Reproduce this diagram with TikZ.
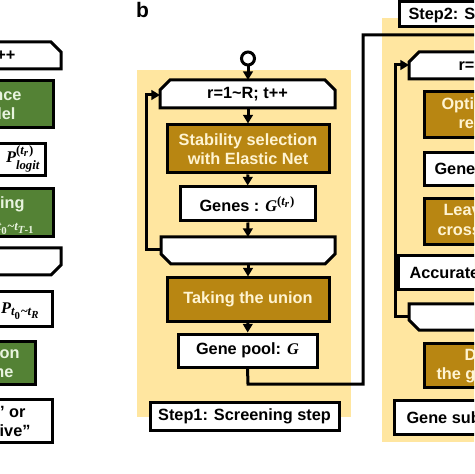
\documentclass[tikz,border=0pt]{standalone}
\usepackage{fontspec}
\setmainfont{Liberation Sans}
\newfontfamily\serifmath{Liberation Serif}
\usepackage{amsmath}
\DeclareMathSizes{8.15}{8.15}{6.4}{5.4}
\usetikzlibrary{arrows.meta}
\newcommand\mvar[1]{\text{\serifmath\bfseries\itshape #1}}
\newcommand\mup[1]{\text{\serifmath\bfseries #1}}
\definecolor{gold}{RGB}{184,134,18}
\definecolor{goldtext}{RGB}{255,244,210}
\definecolor{bgyellow}{RGB}{255,230,160}
\definecolor{greenbox}{RGB}{84,130,53}
\definecolor{greentext}{RGB}{232,244,222}
\begin{document}
\begin{tikzpicture}[x=0.5pt,y=-0.5pt,line width=1.5pt,
  every node/.style={font=\fontsize{8.15}{9.5}\selectfont\bfseries,inner sep=0pt,align=center},
  wbox/.style={draw,fill=white},
  gbox/.style={draw,fill=gold,text=goldtext},
  arr/.style={-{Triangle[length=4.3pt,width=4.8pt]}},
  gtxt/.style={text=greentext},
  otxt/.style={text=goldtext}]
\useasboundingbox (0,0) rectangle (474,474);
\clip (0,0) rectangle (474,474);

% backgrounds
\fill[bgyellow] (137,70) rectangle (351,417);
\fill[bgyellow] (382,18) rectangle (490,442);

% ---------- panel a (cropped) ----------
\draw[fill=white] (-20,42) -- (51,42) -- (61,52) -- (61,69) -- (-20,69) -- cycle;
\node[anchor=base east] (aLoopS) at (17,61) {r=1\textasciitilde R; t++};
\draw[fill=greenbox] (-20,81) rectangle (53,128);
\node[anchor=base east,gtxt] (aInfA) at (23,101) {Inference};
\node[anchor=base east,gtxt] (aInfB) at (17,120) {model};
\draw[fill=white] (-20,144) rectangle (45,176);
\node[anchor=base east] (aPlog) at (42,163) {$\mvar{P}^{\mup{(}\mvar{t}_{\mvar{r}}\mup{)}}_{\mvar{logit}}$};
\draw[fill=greenbox] (-20,189) rectangle (53,237);
\node[anchor=base east,gtxt] (aPredA) at (26,209) {Predicting};
\node[anchor=base east,gtxt] (aPredB) at (37,229) {$\mvar{P}_{\mvar{t}_{\mup{0}}\mup{\textasciitilde}\mvar{t}_{\mvar{T}\mup{-1}}}$};
\draw[fill=white] (-20,248) -- (61,248) -- (61,265) -- (51,275) -- (-20,275) -- cycle;
\draw[fill=white] (-20,292) rectangle (52,326);
\node[anchor=base east] (aPR) at (42,314) {$\mvar{P}_{\mvar{t}_{\mup{0}}\mup{\textasciitilde}\mvar{t}_{\mvar{R}}}$};
\draw[fill=greenbox] (-20,341) rectangle (35,384);
\node[anchor=base east,gtxt] (aClsA) at (21,358) {Classification};
\node[anchor=base east,gtxt] (aClsB) at (15,377) {outcome};
\draw[fill=white] (-20,399) rectangle (52,442);
\node[anchor=base east] (aOutA) at (27,417) {“Positive” or};
\node[anchor=base east] (aOutB) at (32,436) {“Negative”};

% ---------- panel b ----------
\node[font=\fontsize{10.5}{12}\selectfont\bfseries] (lblb) at (142.5,10) {b};
\node[circle,draw,fill=white,minimum size=6.5pt] (start) at (248,58.5) {};
\draw[fill=white] (160,108) -- (160,90) -- (170,80) -- (325,80) -- (335,90) -- (335,108) -- cycle;
\node (bLoopS) at (247.5,94) {r=1\textasciitilde R; t++};
\coordinate (bLSt) at (248,80);
\coordinate (bLSb) at (248,108);
\coordinate (bLSl) at (160,95);
\node[gbox,minimum width=81pt,minimum height=24pt] (bStab) at (248,149) {Stability selection\\with Elastic Net};
\node[wbox,minimum width=67.5pt,minimum height=17pt] (bGenes) at (247.5,204) {Genes : $\mvar{G}^{\mup{(}\mvar{t}_{\mvar{r}}\mup{)}}$};
\draw[fill=white] (161,237) -- (335,237) -- (335,254) -- (325,264) -- (171,264) -- (161,254) -- cycle;
\coordinate (bLEt) at (248,237);
\coordinate (bLEb) at (248,264);
\coordinate (bLEl) at (161,250);
\node[gbox,minimum width=81pt,minimum height=21.5pt] (bUnion) at (248,299.5) {Taking the union};
\node[wbox,minimum width=69.5pt,minimum height=16.5pt] (bPool) at (247.5,350.5) {Gene pool: $\mvar{G}$};
\node[wbox,minimum width=94.5pt,minimum height=14pt] (bStep) at (244.5,416) {Step1: Screening step};

\draw[arr] (start) -- (bLSt);
\draw[arr] (bLSb) -- (bStab);
\draw[arr] (bStab) -- (bGenes);
\draw[arr] (bGenes) -- (bLEt);
\draw[arr] (bLEb) -- (bUnion);
\draw[arr] (bUnion) -- (bPool);
\draw[arr] (bLEl) -- (146,250) -- (146,95) -- (bLSl);
\coordinate (exitc) at (490,35);
\draw (bPool.south) -- (248,384) -- (363,384) -- (363,35) -- (exitc);

% ---------- panel c (cropped) ----------
\draw[fill=white] (399,2) rectangle (520,27);
\node[anchor=base west] (cStep) at (407,20) {Step2: Selection step};
\draw[fill=white] (409,79) -- (409,62) -- (419,52) -- (520,52) -- (520,79) -- cycle;
\node[anchor=base west] (cLoopS) at (457,71) {r=1\textasciitilde R; t++};
\coordinate (cLSl) at (409,65);
\draw[fill=gold] (424,92) rectangle (520,138);
\node[anchor=base west,otxt] (cOptA) at (440,110) {Optimizing the};
\node[anchor=base west,otxt] (cOptB) at (457,129) {regularization};
\draw[fill=white] (424,153) rectangle (520,186);
\node[anchor=base west] (cGenes) at (433,175) {Genes : $\mvar{G}$};
\draw[fill=gold] (424,199) rectangle (520,245);
\node[anchor=base west,otxt] (cLooA) at (442,216) {Leave-one-out};
\node[anchor=base west,otxt] (cLooB) at (436,236) {cross-validation};
\draw[fill=white] (398,256) rectangle (520,290);
\node[anchor=base west] (cAcc) at (408,279) {Accurate rate};
\draw[fill=white] (409,304) -- (520,304) -- (520,330) -- (419,330) -- (409,320) -- cycle;
\coordinate (cLEl) at (409,316);
\draw[arr] (cLEl) -- (395,316) -- (395,65) -- (cLSl);
\draw[fill=gold] (424,343) rectangle (520,387);
\node[anchor=base west,otxt] (cDetA) at (463,360) {Determine};
\node[anchor=base west,otxt] (cDetB) at (435,379) {the gene subset};
\draw[fill=white] (394,400) rectangle (520,434);
\node[anchor=base west] (cSub) at (405,423) {Gene subset};
\end{tikzpicture}
\end{document}
